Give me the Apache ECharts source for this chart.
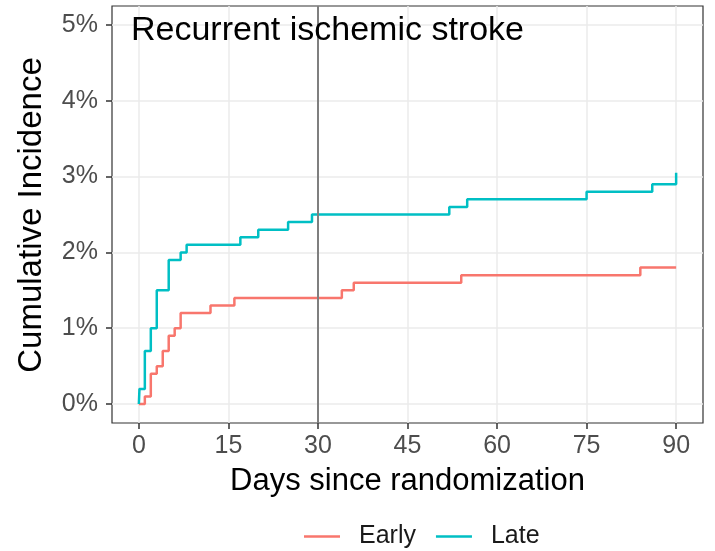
<!DOCTYPE html>
<html>
<head>
<meta charset="utf-8">
<script src="https://cdn.jsdelivr.net/npm/echarts@6/dist/echarts.min.js"></script>
<style>
  html, body { margin: 0; padding: 0; background: #fff; }
  #chart { width: 715px; height: 551px; }
</style>
</head>
<body>
<div id="chart"></div>
<script>
// Cumulative incidence of recurrent ischemic stroke (percent), step curves
const earlyDays = [0, 1, 2, 3, 4, 5, 6, 7, 12, 16, 34, 36, 54, 84, 90];
const earlyPct  = [0, 0.1, 0.4, 0.5, 0.7, 0.9, 1.0, 1.2, 1.3, 1.4, 1.5, 1.6, 1.7, 1.8, 1.8];

const lateDays = [0, 0.1, 1, 2, 3, 5, 7, 8, 17, 20, 25, 29, 52, 55, 75, 86, 90];
const latePct  = [0, 0.2, 0.7, 1.0, 1.5, 1.9, 2.0, 2.1, 2.2, 2.3, 2.4, 2.5, 2.6, 2.7, 2.8, 2.9, 3.05];

const xTicks = [0, 15, 30, 45, 60, 75, 90];
const yTicks = [0, 1, 2, 3, 4, 5];
const refDay = 30;

const seriesNames = ['Early', 'Late'];
const seriesColors = ['#F8766D', '#00BFC4'];

const FONT = '"Liberation Sans", Arial, Helvetica, sans-serif';

function pairs(xs, ys) { return xs.map((x, i) => [x, ys[i]]); }

const chart = echarts.init(document.getElementById('chart'), null, { renderer: 'canvas' });

const tickStyle = { show: true, length: 6, lineStyle: { color: '#333333', width: 1.5 } };
const gridLine = { show: true, lineStyle: { color: '#EBEBEB', width: 1.5 } };

chart.setOption({
  animation: false,
  backgroundColor: '#ffffff',
  grid: {
    left: 112, right: 12, top: 6, bottom: 128,
    show: true, borderColor: '#333333', borderWidth: 1.2, backgroundColor: '#ffffff'
  },
  xAxis: {
    type: 'value', min: -4.5, max: 94.5,
    axisLine: { show: false, onZero: false },
    axisTick: Object.assign({ customValues: xTicks }, tickStyle),
    axisLabel: {
      customValues: xTicks, margin: 11,
      color: '#4D4D4D', fontSize: 25, fontFamily: FONT
    },
    splitLine: gridLine
  },
  yAxis: {
    type: 'value', min: -0.25, max: 5.25,
    axisLine: { show: false, onZero: false },
    axisTick: Object.assign({ customValues: yTicks }, tickStyle),
    axisLabel: {
      customValues: yTicks, margin: 14,
      color: '#4D4D4D', fontSize: 25, fontFamily: FONT,
      formatter: v => v + '%'
    },
    splitLine: gridLine
  },
  legend: {
    data: seriesNames,
    left: 299, top: 519,
    icon: 'rect', itemWidth: 36, itemHeight: 2.5, itemGap: 20,
    textStyle: { color: '#1a1a1a', fontSize: 25, fontFamily: FONT, padding: [0, 0, 0, 14] }
  },
  graphic: [
    {
      type: 'text', left: 131, top: 14,
      style: { text: 'Recurrent ischemic stroke', fontSize: 34, fontFamily: FONT, fill: '#000000' },
      z: 100
    },
    {
      type: 'text', x: 407.5, y: 481,
      style: { text: 'Days since randomization', fontSize: 31, fontFamily: FONT, fill: '#000000',
               align: 'center', verticalAlign: 'middle' }
    },
    {
      type: 'text', x: 32, y: 215, rotation: Math.PI / 2,
      style: { text: 'Cumulative Incidence', fontSize: 33, fontFamily: FONT, fill: '#000000',
               align: 'center', verticalAlign: 'middle' }
    }
  ],
  series: [
    {
      name: seriesNames[0], type: 'line', step: 'end',
      data: pairs(earlyDays, earlyPct),
      symbol: 'none', color: seriesColors[0],
      lineStyle: { width: 2.5, color: seriesColors[0] },
      markLine: {
        silent: true, symbol: 'none', label: { show: false },
        lineStyle: { color: '#7F7F7F', width: 2, type: 'solid' },
        data: [{ xAxis: refDay }]
      }
    },
    {
      name: seriesNames[1], type: 'line', step: 'end',
      data: pairs(lateDays, latePct),
      symbol: 'none', color: seriesColors[1],
      lineStyle: { width: 2.5, color: seriesColors[1] }
    }
  ]
});
</script>
</body>
</html>
